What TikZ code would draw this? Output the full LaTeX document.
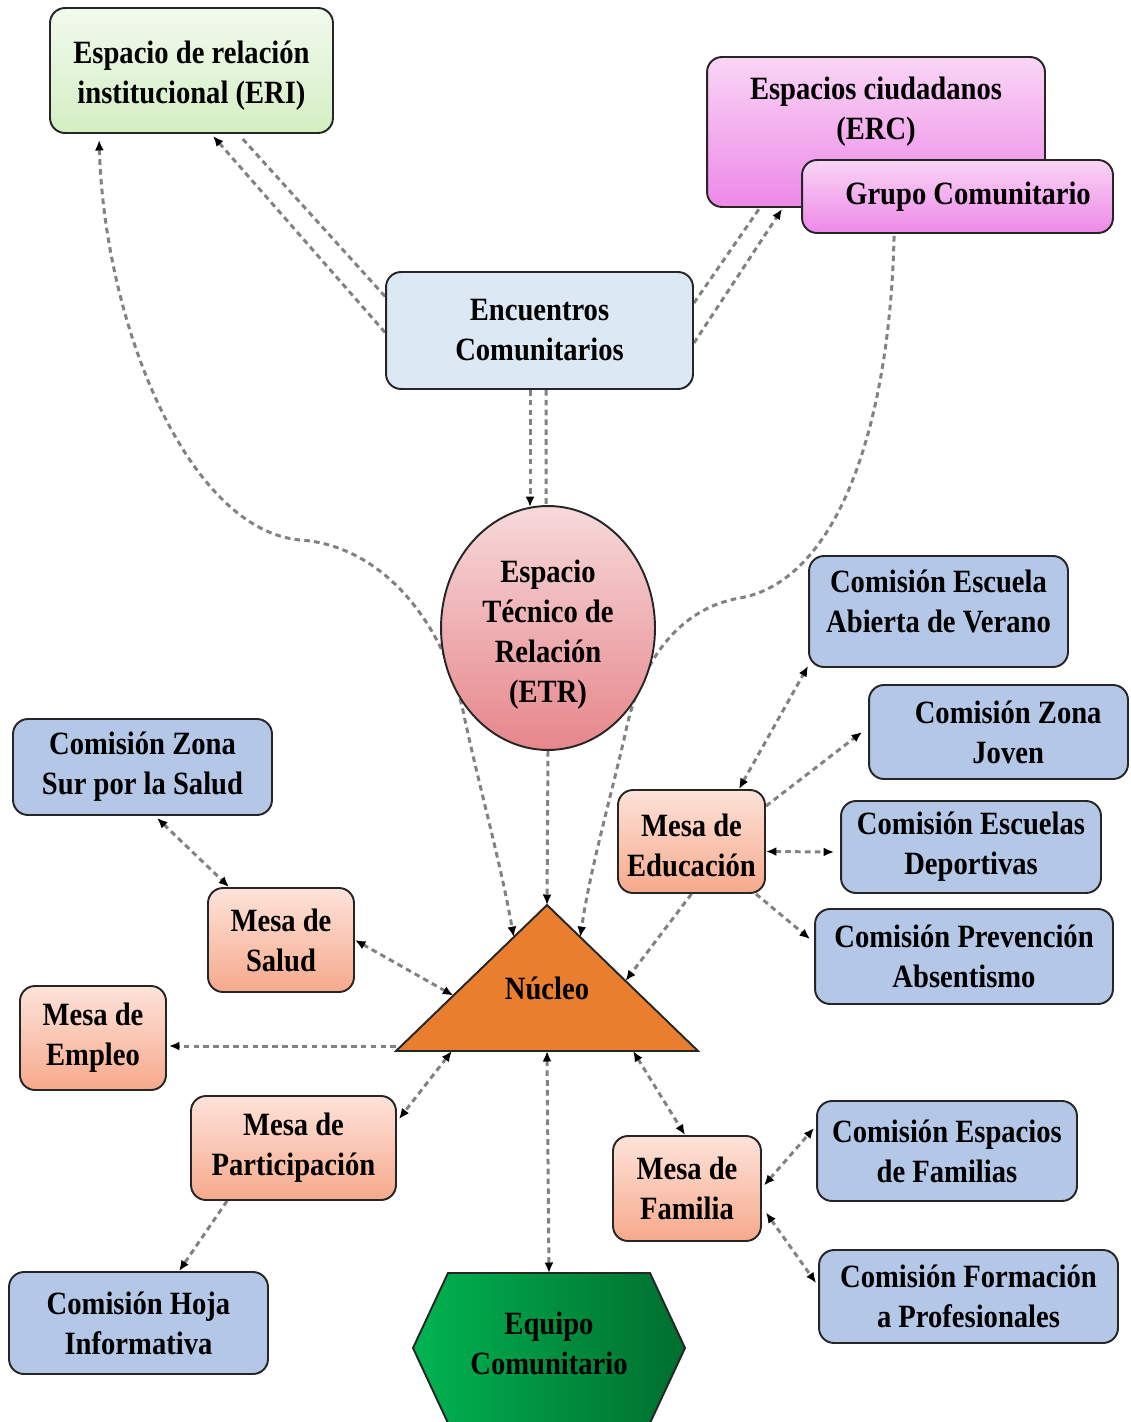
\documentclass[tikz,border=0pt]{standalone}
\usepackage{fontspec}
\setmainfont{Liberation Serif}[FakeStretch=0.88]
\usetikzlibrary{arrows.meta,calc,shapes.geometric}
\pgfdeclarelayer{bg}
\pgfsetlayers{bg,main}
\definecolor{lineC}{HTML}{262626}
\definecolor{dashC}{HTML}{828282}
\definecolor{cEriT}{HTML}{F2FAEE}
\definecolor{cEriB}{HTML}{D4EEC3}
\definecolor{cErcT}{HTML}{F9D5F5}
\definecolor{cErcB}{HTML}{EE88E8}
\definecolor{cEnc}{HTML}{DDE8F5}
\definecolor{cEtrT}{HTML}{F7D9DA}
\definecolor{cEtrB}{HTML}{E6868B}
\definecolor{cMesaT}{HTML}{FDE3DA}
\definecolor{cMesaB}{HTML}{F7A98B}
\definecolor{cCom}{HTML}{B4C7E7}
\definecolor{cNuc}{HTML}{E97E2F}
\definecolor{cEqL}{HTML}{00B451}
\definecolor{cEqR}{HTML}{006E2E}
\newcommand\diagfont{\fontsize{18.5}{22.8}\selectfont\bfseries}
\begin{document}
\begin{tikzpicture}[x=0.02cm,y=-0.02cm,
  box/.style={draw=lineC, line width=1.1pt, rounded corners=0.3cm, inner sep=0pt, align=center, font=\diagfont},
  mesa/.style={box, top color=cMesaT, bottom color=cMesaB},
  com/.style={box, fill=cCom},
  sz/.style 2 args={minimum width=#1cm, minimum height=#2cm},
  conn/.style={draw=dashC, line width=1.7pt, dash pattern=on 3.2pt off 2.4pt},
  >={Latex[length=2.1mm,width=1.8mm,color=black]},
  lbl/.style={font=\diagfont, align=center, inner sep=0pt}]
\useasboundingbox (0,0) rectangle (1130,1422);
\begin{pgfonlayer}{bg}
\fill[white] (0,0) rectangle (1130,1422);
\end{pgfonlayer}

% ---------- boxes ----------
\node[box, top color=cEriT, bottom color=cEriB, sz={5.66}{2.5}] (eri) at (191.5,70.5) {\rule{0pt}{19pt}Espacio de relación\\institucional (ERI)};
\node[box, top color=cErcT, bottom color=cErcB, sz={6.76}{3.0}] (erc) at (876,132) {};
\node[lbl] (ercT) at (876,112) {Espacios ciudadanos\\(ERC)};
\node[box, top color=cErcT, bottom color=cErcB, sz={6.22}{1.46}] (grupo) at (957.5,196.5) {\hspace*{12pt}Grupo Comunitario};
\node[box, fill=cEnc, sz={6.14}{2.34}] (enc) at (539.5,330.5) {Encuentros\\Comunitarios};
\node[ellipse, draw=lineC, line width=1.1pt, inner sep=0pt, minimum width=4.28cm, minimum height=4.88cm,
      top color=cEtrT, bottom color=cEtrB, align=center, font=\diagfont] (etr) at (548,628)
      {\rule{0pt}{20pt}Espacio\\Técnico de\\Relación\\(ETR)};

\node[com, sz={5.18}{2.22}] (eav) at (938.5,611.5) {Comisión Escuela\\Abierta de Verano\rule[-12pt]{0pt}{0pt}};
\node[com, sz={5.18}{1.88}] (czj) at (998.5,732) {\hspace*{11pt}Comisión Zona\\\hspace*{11pt}Joven};
\node[com, sz={5.2}{1.84}] (ced) at (971,847) {Comisión Escuelas\\Deportivas};
\node[com, sz={5.96}{1.9}] (cpa) at (964,956.5) {Comisión Prevención\\Absentismo};
\node[mesa, sz={2.94}{2.06}] (medu) at (691.5,841.5) {\rule{0pt}{17pt}Mesa de\\Educación};

\node[com, sz={5.18}{1.92}] (czs) at (142.5,767) {Comisión Zona\\Sur por la Salud};
\node[mesa, sz={2.92}{2.08}] (msal) at (281,940) {Mesa de\\Salud};
\node[mesa, sz={2.92}{2.08}] (memp) at (93,1038) {Mesa de\\Empleo};
\node[mesa, sz={4.1}{2.08}] (mpar) at (293.5,1148) {Mesa de\\Participación};
\node[com, sz={5.18}{2.04}] (chi) at (138.5,1323) {Comisión Hoja\\Informativa};
\node[mesa, sz={2.96}{2.1}] (mfam) at (687,1188.5) {Mesa de\\Familia};
\node[com, sz={5.2}{2.0}] (cef) at (947,1151) {Comisión Espacios\\de Familias};
\node[com, sz={5.98}{1.86}] (cfp) at (968.5,1296.5) {Comisión Formación\\a Profesionales};

% ---------- Núcleo triangle ----------
\coordinate (nA) at (547,905);
\coordinate (nL) at (396,1051);
\coordinate (nR) at (698,1051);
\filldraw[fill=cNuc, draw=lineC, line width=1.1pt, line join=miter] (nA) -- (nR) -- (nL) -- cycle;
\node[lbl] (nuc) at (547,988) {Núcleo};

% ---------- Equipo hexagon ----------
\coordinate (eqTop) at (549,1273);
\filldraw[left color=cEqL, right color=cEqR, draw=lineC, line width=1.1pt]
  (448,1273) -- (650,1273) -- (685,1348) -- (650,1423) -- (448,1423) -- (413,1348) -- cycle;
\node[lbl] (equ) at (549,1343) {Equipo\\Comunitario};

% ---------- connectors ----------
\begin{pgfonlayer}{bg}
\draw[conn,->] ($(enc.west)+(0,2)$) -- ($(eri.south)+(21.5,2)$);
\draw[conn] ($(enc.west)+(0,-34)$) -- ($(eri.south)+(48.5,2)$);
\draw[conn] ($(enc.east)+(0,-27.5)$) -- ($(erc.south west)+(53,1)$);
\draw[conn,->] ($(enc.east)+(0,12.5)$) -- ($(erc.south west)+(76,1)$);
\draw[conn,->] ($(enc.south)+(-9.5,0)$) -- ($(etr.north)+(-18,2)$);
\draw[conn] ($(enc.south)+(6.5,0)$) -- ($(etr.north)+(-2,0)$);
\draw[conn,<->] ($(eri.south west)+(50,6)$)
   .. controls (105,330) and (190,530) .. (300,540)
   .. controls (380,545) and (445,620) .. (465,720)
   .. controls (480,790) and (500,860) .. ($(nA)!0.22!(nL)$);
\draw[conn,->] ($(grupo.south west)+(93,2)$)
   .. controls (890,420) and (840,580) .. (740,598)
   .. controls (680,608) and (640,660) .. (625,735)
   .. controls (610,800) and (590,870) .. ($(nA)!0.22!(nR)$);
\draw[conn,->] (etr.south) -- (nA);
\draw[conn,<->] (msal.east) -- ($(nA)!0.62!(nL)$);
\draw[conn,->] (medu.south) -- ($(nA)!0.52!(nR)$);
\draw[conn,->] ($(nL)+(0,-5)$) -- ($(memp.east)+(2,8)$);
\draw[conn,<->] ($(nL)!0.185!(nR)$) -- ($(mpar.north east)+(2,24)$);
\draw[conn,<->] ($(nL)!0.5!(nR)$) -- (eqTop);
\draw[conn,<->] ($(nL)!0.785!(nR)$) -- ($(mfam.north)+(-2,0)$);
\draw[conn,<->] ($(czs.south west)+(145,2)$) -- ($(msal.north west)+(22,0)$);
\draw[conn,->] ($(mpar.south west)+(37,0)$) -- ($(chi.north west)+(171,0)$);
\draw[conn,<->] ($(medu.north east)+(-27,0)$) -- ($(eav.south west)+(0,-2)$);
\draw[conn,->] ($(medu.north east)+(0,17)$) -- ($(czj.west)+(-6,0)$);
\draw[conn,<->] ($(medu.east)+(0,10)$) -- ($(ced.west)+(-6,5)$);
\draw[conn,->] ($(medu.south east)+(-10,0)$) -- ($(cpa.north west)+(-4,31)$);
\draw[conn,<->] ($(mfam.east)+(2,-3)$) -- ($(cef.west)+(-2,-23)$);
\draw[conn,<->] ($(mfam.east)+(4,24)$) -- ($(cfp.west)+(-2,-13.5)$);
\end{pgfonlayer}
\end{tikzpicture}
\end{document}
